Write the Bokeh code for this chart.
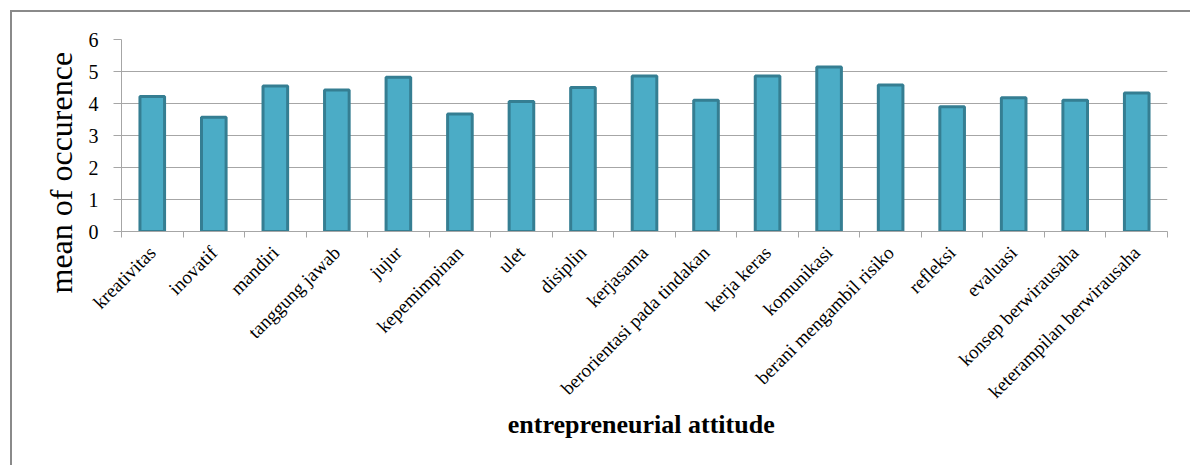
import math

from bokeh.plotting import figure
from bokeh.models import Range1d, FixedTicker, ColumnDataSource, Title
from bokeh.embed import file_html
from bokeh.resources import INLINE

# Mean occurrence of each entrepreneurial attitude
attitudes = [
    "kreativitas", "inovatif", "mandiri", "tanggung jawab", "jujur",
    "kepemimpinan", "ulet", "disiplin", "kerjasama",
    "berorientasi pada tindakan", "kerja keras", "komunikasi",
    "berani mengambil risiko", "refleksi", "evaluasi",
    "konsep berwirausaha", "keterampilan berwirausaha",
]
mean_values = [
    4.22, 3.57, 4.55, 4.42, 4.82, 3.67, 4.06, 4.50, 4.86,
    4.10, 4.86, 5.14, 4.58, 3.90, 4.18, 4.10, 4.33,
]
y_ticks = [0, 1, 2, 3, 4, 5, 6]

positions = [i + 0.5 for i in range(len(attitudes))]
source = ColumnDataSource(data=dict(x=positions, top=mean_values, name=attitudes))

SERIF = "Liberation Serif"
GRID = "#a6a6a6"

p = figure(
    width=1180, height=455,
    x_range=Range1d(0, len(attitudes)), y_range=Range1d(0, 6),
    output_backend="svg", toolbar_location=None,
    min_border_left=109, min_border_right=25,
    min_border_top=27, min_border_bottom=236,
)
p.margin = (10, 0, 0, 10)
p.styles = {"border-top": "2px solid #8a8a8a", "border-left": "2px solid #8a8a8a"}
p.outline_line_color = None
p.background_fill_color = "white"
p.border_fill_color = "white"

p.vbar(x="x", top="top", width=0.4, bottom=0, source=source,
       fill_color="#4bacc6", line_color="#357e92", line_width=3)

# x axis: labels at the bar centres, ticks on the category boundaries
xa = p.xaxis[0]
xa.ticker = FixedTicker(ticks=positions, minor_ticks=list(range(len(attitudes) + 1)))
xa.major_label_overrides = {pos: name for pos, name in zip(positions, attitudes)}
xa.major_label_orientation = math.pi / 4
xa.major_tick_line_color = None
xa.major_tick_out = 6
xa.major_tick_in = 0
xa.minor_tick_line_color = GRID
xa.minor_tick_in = 0
xa.minor_tick_out = 6
xa.axis_line_color = GRID
xa.major_label_text_font = SERIF
xa.major_label_text_font_size = "19px"
xa.major_label_text_color = "black"
xa.major_label_standoff = 12
xa.axis_label = "entrepreneurial  attitude"
xa.axis_label_text_font = SERIF
xa.axis_label_text_font_style = "bold"
xa.axis_label_text_font_size = "26px"
xa.axis_label_text_color = "black"
xa.axis_label_standoff = -2

ya = p.yaxis[0]
ya.ticker = FixedTicker(ticks=y_ticks, minor_ticks=[])
ya.axis_line_color = GRID
ya.major_tick_line_color = GRID
ya.major_tick_in = 0
ya.major_tick_out = 8
ya.major_label_text_font = SERIF
ya.major_label_text_font_size = "20px"
ya.major_label_text_color = "black"
ya.major_label_standoff = 15

# vertical title on the left, shifted below the frame centre
p.add_layout(Title(
    text="mean of occurence", align="left", offset=-62,
    text_font=SERIF, text_font_size="32px", text_font_style="normal",
    text_color="black", standoff=13,
), "left")

p.xgrid.grid_line_color = None
p.ygrid.ticker = FixedTicker(ticks=y_ticks)
p.ygrid.grid_line_color = GRID
p.ygrid.grid_line_width = 1

open("out.html", "w").write(file_html(p, INLINE))
